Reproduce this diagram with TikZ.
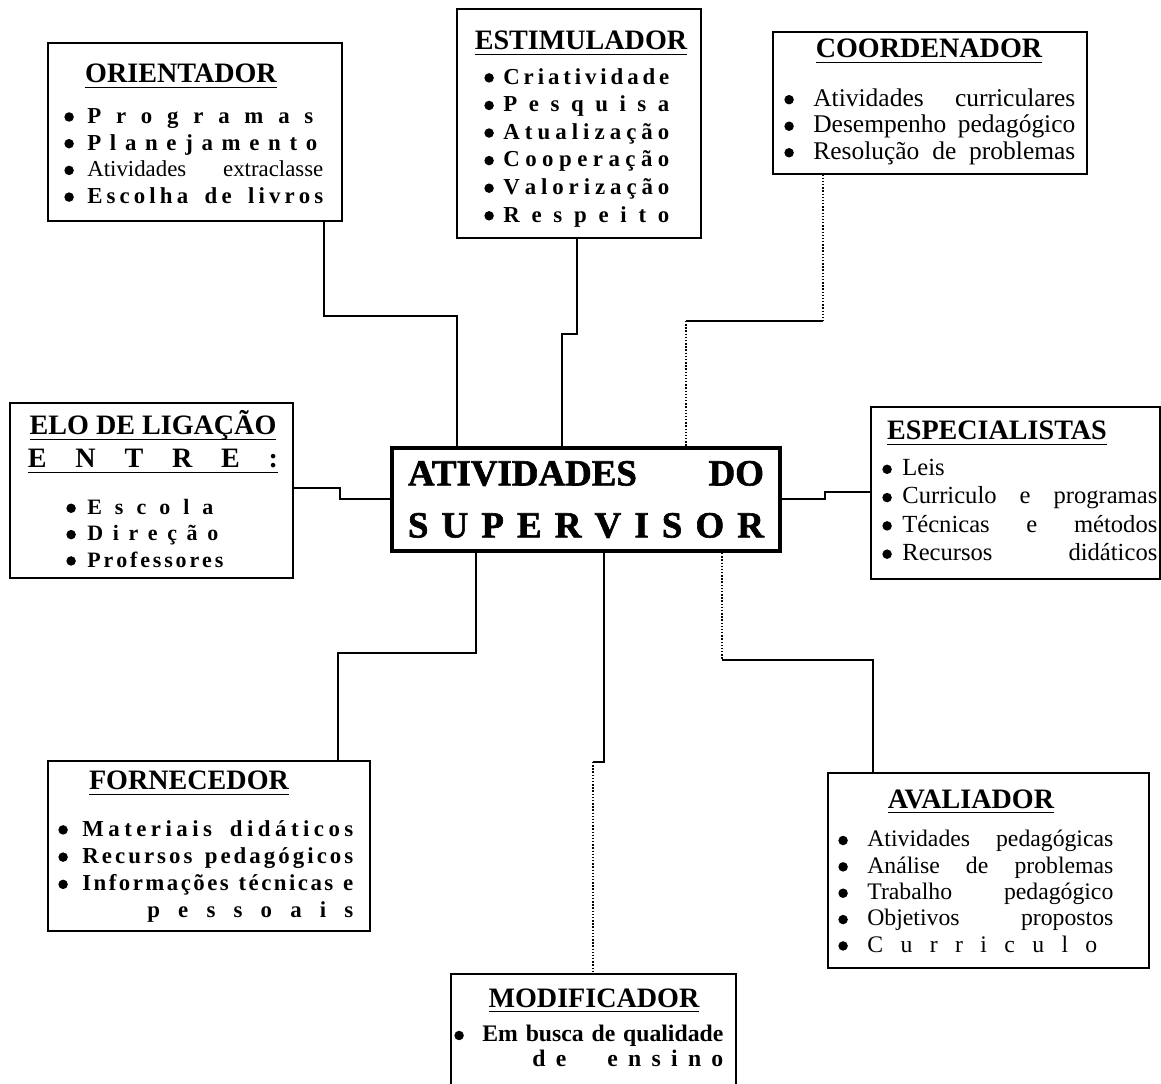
\documentclass[tikz,border=0pt]{standalone}
\usepackage{fontspec}
\setmainfont{Liberation Serif}
\newfontfamily\heavyf[FakeBold=1.6]{Liberation Serif Bold}

\newlength\upx
\setlength\upx{0.02cm}
% spread a line to a fixed width
\newcommand\spr[2]{\makebox[#1\upx][s]{\spaceskip=0pt plus 1fil\relax #2}}
\newcommand\wg{\hskip 0pt plus 3fil\relax}
\newcommand\blt{\tikz[baseline=-3.6pt, x=1pt, y=1pt]\fill (0,0) circle [radius=2.7];}
\newcommand\itm[3][22]{\makebox[#1\upx][l]{\blt}\spr{#2}{#3}}
\newcommand\undl[1]{\setbox0=\hbox{#1}\leavevmode\copy0\llap{\rule[-3.1pt]{\wd0}{1.1pt}}}

\begin{document}
\begin{tikzpicture}[x=0.02cm, y=-0.02cm]
\tikzstyle{blk}=[rectangle, draw, line width=0.9pt, inner sep=0pt, anchor=north west]
\tikzstyle{supbox}=[rectangle, draw, line width=2.3pt, inner sep=0pt, align=center,
    font=\fontsize{21}{29.6}\selectfont\heavyf]
\tikzstyle{ttl}=[anchor=base, inner sep=0pt, font=\fontsize{16}{19}\selectfont\bfseries]
\tikzstyle{lst}=[anchor=north west, inner sep=0pt, align=left]
\tikzstyle{cnct}=[line width=0.8pt]
\tikzstyle{dotcn}=[line width=0.8pt, densely dotted]

\useasboundingbox (0,0) rectangle (1161,1084);
\clip (0,0) rectangle (1161,1084);

% centre
\node[supbox, minimum width=388*\upx, minimum height=103*\upx] (sup) at (586,499.5)
    {\spr{356}{ATIVIDADES DO}\\ \spr{356}{S U P E R V I S O R}};

% ORIENTADOR
\node[blk, minimum width=294*\upx, minimum height=178*\upx] (orient) at (47,42) {};
\node[ttl] (orient-t) at (181,83) {\undl{ORIENTADOR}};
\node[lst, font=\fontsize{13}{15.2}\selectfont\bfseries] (orient-l) at (64,108)
    {\itm[23]{226}{P r o g r a m a s}\\
     \itm[23]{230}{P l a n e j a m e n t o}\\
     \itm[23]{236}{\mdseries Atividades extraclasse}\\
     \itm[23]{236}{E s c o l h a \wg d e \wg l i v r o s}};

% ESTIMULADOR
\node[blk, minimum width=244*\upx, minimum height=229*\upx] (estim) at (456,8) {};
\node[ttl] (estim-t) at (581,50) {\undl{ESTIMULADOR}};
\node[lst, font=\fontsize{13}{15.7}\selectfont\bfseries] (estim-l) at (484,68)
    {\itm[19]{166}{C r i a t i v i d a d e}\\
     \itm[19]{166}{P e s q u i s a}\\
     \itm[19]{166}{A t u a l i z a ç ã o}\\
     \itm[19]{166}{C o o p e r a ç ã o}\\
     \itm[19]{166}{V a l o r i z a ç ã o}\\
     \itm[19]{166}{R e s p e i t o}};

% COORDENADOR
\node[blk, minimum width=314*\upx, minimum height=142*\upx] (coord) at (772,31) {};
\node[ttl] (coord-t) at (929,58) {\undl{COORDENADOR}};
\node[lst, font=\fontsize{14.5}{15.1}\selectfont] (coord-l) at (784,88)
    {\itm[29]{262}{Atividades curriculares}\\
     \itm[29]{262}{Desempenho pedagógico}\\
     \itm[29]{262}{Resolução de problemas}};

% ELO DE LIGACAO
\node[blk, minimum width=283*\upx, minimum height=175*\upx] (elo) at (9,402) {};
\node[ttl] (elo-t) at (153,435) {\undl{ELO DE LIGAÇÃO}};
\node[ttl] (elo-t2) at (153,468) {\undl{\spr{250}{E N T R E :}}};
\node[lst, font=\fontsize{12.5}{15}\selectfont\bfseries] (elo-l) at (66,499)
    {\itm[21]{126}{E s c o l a}\\
     \itm[21]{131}{D i r e ç ã o}\\
     \itm[21]{136}{P r o f e s s o r e s}};

% ESPECIALISTAS
\node[blk, minimum width=289*\upx, minimum height=172*\upx] (espec) at (870,406) {};
\node[ttl] (espec-t) at (997,440) {\undl{ESPECIALISTAS}};
\node[lst, font=\fontsize{14}{16.1}\selectfont] (espec-l) at (882,459)
    {\itm[20]{255}{Leis}\\
     \itm[20]{255}{Curriculo e programas}\\
     \itm[20]{255}{Técnicas e métodos}\\
     \itm[20]{255}{Recursos didáticos}};

% FORNECEDOR
\node[blk, minimum width=322*\upx, minimum height=170*\upx] (forn) at (47,760) {};
\node[ttl] (forn-t) at (189,790) {\undl{FORNECEDOR}};
\node[lst, font=\fontsize{13}{15.5}\selectfont\bfseries] (forn-l) at (58,820)
    {\itm[24]{271}{M a t e r i a i s \wg d i d á t i c o s}\\
     \itm[24]{271}{R e c u r s o s \wg p e d a g ó g i c o s}\\
     \itm[24]{271}{I n f o r m a ç õ e s \wg t é c n i c a s \wg e}\\
     \hspace*{89\upx}\spr{206}{p e s s o a i s}};

% AVALIADOR
\node[blk, minimum width=321*\upx, minimum height=195*\upx] (aval) at (827,772) {};
\node[ttl] (aval-t) at (971,808) {\undl{AVALIADOR}};
\node[lst, font=\fontsize{13.5}{15}\selectfont] (aval-l) at (838,830)
    {\itm[29]{246}{Atividades pedagógicas}\\
     \itm[29]{246}{Análise de problemas}\\
     \itm[29]{246}{Trabalho pedagógico}\\
     \itm[29]{246}{Objetivos propostos}\\
     \itm[29]{230}{C u r r i c u l o}};

% MODIFICADOR
\node[blk, minimum width=285*\upx, minimum height=140*\upx] (modif) at (450,973) {};
\node[ttl] (modif-t) at (594,1007) {\undl{MODIFICADOR}};
\node[lst, font=\fontsize{13.5}{14.2}\selectfont\bfseries] (modif-l) at (454,1025)
    {\itm[28]{241}{Em busca de qualidade}\\
     \hspace*{78\upx}\spr{191}{d e \wg e n s i n o}};

% connectors
\draw[cnct] (324,0 |- orient.south) |- (457,316) -- (457,0 |- sup.north);
\draw[cnct] (577,0 |- estim.south) |- (562,334) -- (562,0 |- sup.north);
\coordinate (coord-b1) at (823,321);
\coordinate (coord-b2) at (686,321);
\draw[dotcn] (823,0 |- coord.south) -- (coord-b1);
\draw[cnct] (coord-b1) -- (coord-b2);
\draw[dotcn] (coord-b2) -- (686,0 |- sup.north);
\draw[cnct] (elo.east |- 0,488) -- (340,488) |- (sup.west |- 0,499);
\draw[cnct] (sup.east |- 0,499) -- (825,499) |- (espec.west |- 0,492);
\draw[cnct] (476,0 |- sup.south) |- (338,653) -- (338,0 |- forn.north);
\coordinate (modif-b) at (593,762);
\draw[cnct] (604,0 |- sup.south) |- (modif-b);
\draw[dotcn] (modif-b) -- (593,0 |- modif.north);
\coordinate (aval-b) at (722,660);
\draw[dotcn] (722,0 |- sup.south) -- (aval-b);
\draw[cnct] (aval-b) -| (873,0 |- aval.north);
\end{tikzpicture}
\end{document}
